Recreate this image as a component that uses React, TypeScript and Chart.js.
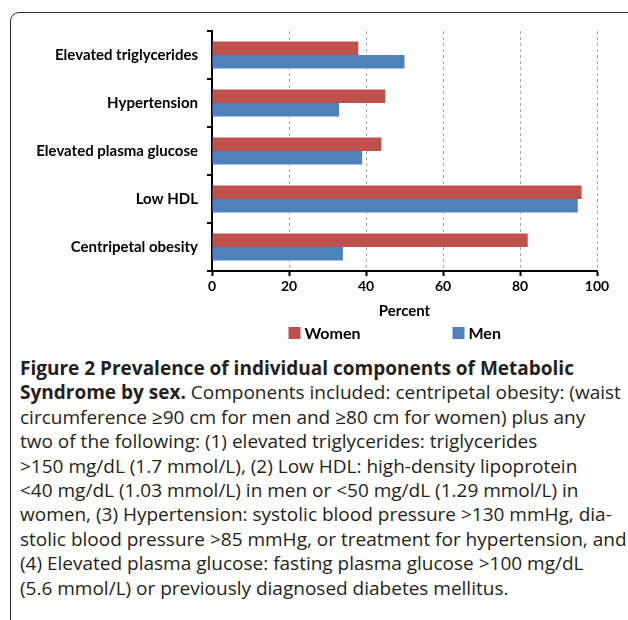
import React, { useEffect, useRef } from "react";
import { Chart, registerables } from "chart.js";

Chart.register(...registerables);

const categories = [
  "Elevated triglycerides",
  "Hypertension",
  "Elevated plasma glucose",
  "Low HDL",
  "Centripetal obesity",
];
const womenValues = [38, 45, 44, 96, 82];
const menValues = [50, 33, 39, 95, 34];
const seriesNames = ["Women", "Men"];
const xTicks = [0, 20, 40, 60, 80, 100];
const xTitle = "Percent";

const captionBold1 = "Figure 2 Prevalence of individual components of Metabolic";
const captionBold2 = "Syndrome by sex.";
const captionLines = [
  " Components included: centripetal obesity: (waist",
  "circumference \u226590 cm for men and \u226580 cm for women) plus any",
  "two of the following: (1) elevated triglycerides: triglycerides",
  ">150 mg/dL (1.7 mmol/L), (2) Low HDL: high-density lipoprotein",
  "<40 mg/dL (1.03 mmol/L) in men or <50 mg/dL (1.29 mmol/L) in",
  "women, (3) Hypertension: systolic blood pressure >130 mmHg, dia-",
  "stolic blood pressure >85 mmHg, or treatment for hypertension, and",
  "(4) Elevated plasma glucose: fasting plasma glucose >100 mg/dL",
  "(5.6 mmol/L) or previously diagnosed diabetes mellitus.",
];

const RED = "#C0504D";
const BLUE = "#4F81BD";
const LABEL_FONT = "Lato";

const legendPlugin = {
  id: "customLegend",
  afterDraw(chart: any) {
    const { ctx, chartArea } = chart;
    const cx = (chartArea.left + chartArea.right) / 2;
    const y = 333;
    const starts = [cx - 116, cx + 48];
    ctx.save();
    ctx.font = `bold 16px ${LABEL_FONT}`;
    ctx.textBaseline = "middle";
    ctx.textAlign = "left";
    chart.data.datasets.forEach((ds: any, i: number) => {
      const x = starts[i];
      ctx.fillStyle = ds.backgroundColor;
      ctx.fillRect(x, y - 6, 12, 12);
      ctx.fillStyle = "#000";
      ctx.fillText(ds.label, x + 16, y + 0.5);
    });
    ctx.restore();
  },
};

function ChartCanvas() {
  const ref = useRef<HTMLCanvasElement | null>(null);
  useEffect(() => {
    if (!ref.current) return;
    const chart = new Chart(ref.current, {
      type: "bar",
      data: {
        labels: categories,
        datasets: [
          { label: seriesNames[0], data: womenValues, backgroundColor: RED },
          { label: seriesNames[1], data: menValues, backgroundColor: BLUE },
        ],
      },
      plugins: [legendPlugin],
      options: {
        indexAxis: "y",
        animation: false,
        responsive: false,
        maintainAspectRatio: false,
        datasets: { bar: { barPercentage: 1, categoryPercentage: 0.5625 } },
        layout: { padding: { top: 31, right: 31, bottom: 30, left: 0 } },
        plugins: { legend: { display: false }, tooltip: { enabled: false } },
        scales: {
          x: {
            type: "linear",
            min: 0,
            max: 100,
            afterBuildTicks: (scale: any) => {
              scale.ticks = xTicks.map((v) => ({ value: v }));
            },
            afterFit: (scale: any) => {
              scale.height = 49;
            },
            grid: {
              color: "#a6a6a6",
              lineWidth: 1,
              drawTicks: true,
              tickLength: 5,
              tickColor: "#000",
              tickWidth: 2,
            },
            border: { display: true, color: "#000", width: 2, dash: [3, 3] },
            ticks: {
              color: "#000",
              padding: 2,
              font: { family: LABEL_FONT, size: 14, weight: "bold" },
            },
            title: {
              display: true,
              text: xTitle,
              color: "#000",
              padding: { top: 4, bottom: 0 },
              font: { family: LABEL_FONT, size: 15, weight: "bold" },
            },
          },
          y: {
            type: "category",
            afterFit: (scale: any) => {
              scale.width = 212;
            },
            grid: {
              offset: true,
              drawOnChartArea: false,
              drawTicks: true,
              tickLength: 5,
              color: "#000",
              lineWidth: 2,
            },
            border: { display: true, color: "#000", width: 2 },
            ticks: {
              color: "#000",
              padding: 9,
              font: { family: LABEL_FONT, size: 15, weight: "bold" },
            },
          },
        },
      },
    } as any);
    return () => chart.destroy();
  }, []);
  return (
    <canvas
      ref={ref}
      width={628}
      height={350}
      style={{ position: "absolute", left: 0, top: 0, width: 628, height: 350 }}
    />
  );
}

export default function App() {
  return (
    <div
      style={{
        position: "absolute",
        left: 0,
        top: 0,
        width: 628,
        height: 620,
        overflow: "hidden",
        background: "#fff",
      }}
    >
      <div
        style={{
          position: "absolute",
          left: 10,
          top: 12,
          width: 640,
          height: 700,
          border: "1.5px solid #2a2a2a",
          borderRadius: 9,
          boxSizing: "border-box",
        }}
      />
      <ChartCanvas />
      <div
        style={{
          position: "absolute",
          left: 20,
          top: 356,
          fontFamily: "'Open Sans', sans-serif",
          fontSize: 19,
          lineHeight: "24.4px",
          color: "#231f20",
          whiteSpace: "nowrap",
        }}
      >
        <div style={{ fontWeight: 700 }}>{captionBold1}</div>
        <div>
          <span style={{ fontWeight: 700 }}>{captionBold2}</span>
          {captionLines[0]}
        </div>
        {captionLines.slice(1).map((l, i) => (
          <div key={i}>{l}</div>
        ))}
      </div>
    </div>
  );
}
